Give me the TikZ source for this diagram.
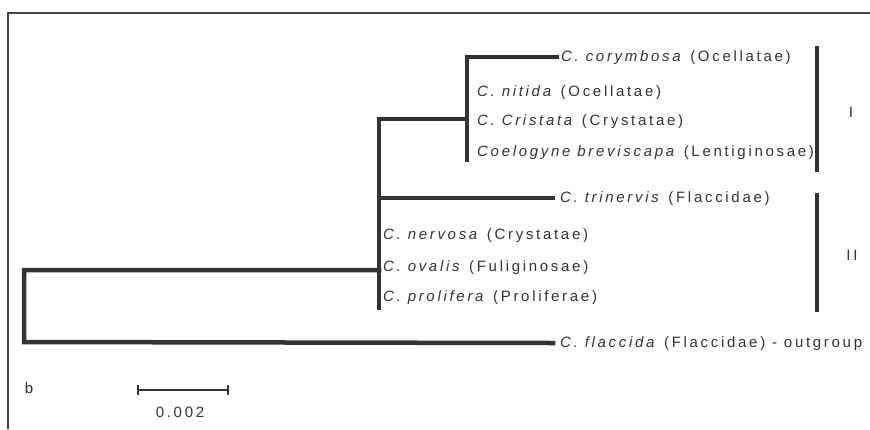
\documentclass[tikz,border=0pt]{standalone}
\usepackage{fontspec}
\setmainfont{Liberation Sans}[LetterSpace=18]
\definecolor{ink}{HTML}{333333}
\definecolor{framec}{HTML}{454545}
\tikzset{
  branch/.style={draw=ink, line width=4.5pt, line cap=rect, line join=miter},
  groupbar/.style={draw=ink, line width=3.5pt},
  taxon/.style={anchor=west, inner sep=0pt, text=ink, font=\fontsize{15}{17}\selectfont,
                text height=11pt, text depth=3pt},
  grouplabel/.style={inner sep=0pt, text=ink, font=\fontsize{15}{17}\selectfont},
  framebox/.style={draw=framec, line width=1.5pt},
  scalebar/.style={draw=ink, line width=1.5pt}
}
\newcommand{\spname}[1]{\textit{#1}}
\begin{document}
\begin{tikzpicture}[x=1pt, y=-1pt]
  \useasboundingbox (0,0) rectangle (870,429);
  \fill[white] (0,0) rectangle (870,429);
  % frame (left and top edges)
  \draw[framebox] (8,429) -- (8,13) -- (870,13);

  % internal nodes of the tree
  \coordinate (rootT) at (24,270);
  \coordinate (rootB) at (24,342);
  \coordinate (mainTop) at (379,119);
  \coordinate (mainMid) at (379,270);
  \coordinate (mainTri) at (379,198);
  \coordinate (mainBot) at (379,308);
  \coordinate (cITop) at (467,57);
  \coordinate (cIMid) at (467,119);
  \coordinate (cIBot) at (467,160);

  % taxon labels
  \node[taxon] (cor) at (561,57)  {\spname{C. corymbosa} (Ocellatae)};
  \node[taxon] (nit) at (477,92)  {\spname{C. nitida} (Ocellatae)};
  \node[taxon] (cri) at (477,121) {\spname{C. Cristata} (Crystatae)};
  \node[taxon] (coe) at (477,152) {\spname{Coelogyne breviscapa} (Lentiginosae)};
  \node[taxon] (tri) at (560,198) {\spname{C. trinervis} (Flaccidae)};
  \node[taxon] (ner) at (383,235) {\spname{C. nervosa} (Crystatae)};
  \node[taxon] (ova) at (383,267) {\spname{C. ovalis} (Fuliginosae)};
  \node[taxon] (pro) at (383,297) {\spname{C. prolifera} (Proliferae)};
  \node[taxon] (fla) at (560,343) {\spname{C. flaccida} (Flaccidae) - outgroup};

  % branches
  \draw[branch] ([xshift=-7pt]fla.west) -- (rootB) -- (rootT) -- (mainMid);
  \draw[branch] (mainBot) -- (mainTop) -- (cIMid);
  \draw[branch] (cIBot) -- (cITop) -- ([xshift=-4pt]cor.west);
  \draw[branch] (mainTri) -- ([xshift=-7pt]tri.west);

  % group bars
  \draw[groupbar] (817,46) -- (817,172);
  \draw[groupbar] (817,193) -- (817,312);
  \node[grouplabel] (gI)  at (851,112) {I};
  \node[grouplabel] (gII) at (852,255) {II};

  % panel letter and scale bar
  \node[grouplabel] (panel) at (29,388) {b};
  \coordinate (sbL) at (138,390);
  \coordinate (sbR) at (228,390);
  \draw[scalebar] (sbL) -- (sbR);
  \draw[scalebar] ([yshift=-5pt]sbL) -- ([yshift=5pt]sbL);
  \draw[scalebar] ([yshift=-5pt]sbR) -- ([yshift=5pt]sbR);
  \node[grouplabel] (sblab) at (180,412) {0.002};
\end{tikzpicture}
\end{document}
